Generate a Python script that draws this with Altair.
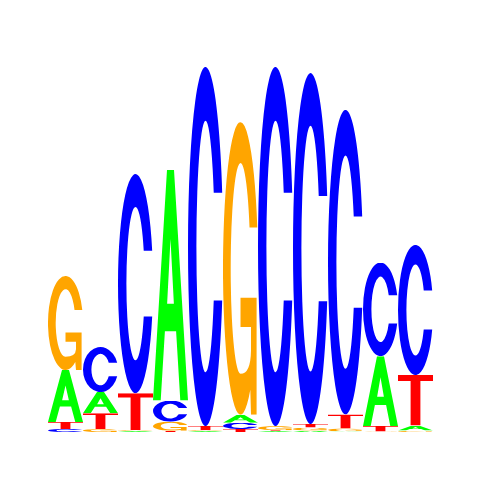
import urllib.parse

import altair as alt
import pandas as pd

# information content (bits) of each base at the 11 positions
positions = list(range(1, 12))
a_bits = [0.281, 0.114, 0.005, 1.247, 0.005, 0.043, 0.005, 0.008, 0.003, 0.378, 0.027]
c_bits = [0.016, 0.243, 1.184, 0.114, 1.941, 0.034, 1.941, 1.897, 1.646, 0.506, 0.703]
g_bits = [0.508, 0.016, 0.005, 0.049, 0.005, 1.582, 0.022, 0.016, 0.016, 0.003, 0.008]
t_bits = [0.038, 0.086, 0.200, 0.007, 0.022, 0.016, 0.005, 0.019, 0.076, 0.029, 0.273]

colors = {"A": "#00ff00", "C": "#0000ff", "G": "#ffa500", "T": "#ff0000"}

# letter outlines in a 100x100 box, stretched to fit each stack slot
glyphs = {
    "A": "M0,100 L40,0 L60,0 L100,100 L78,100 L66,70 L34,70 L22,100 Z "
         "M40.4,58 L50,30 L59.6,58 Z",
    "C": "M97.7,35 A50,50 0 1 0 97.7,65 L73.5,65 A26,35 0 1 1 73.5,35 Z",
    "G": "M98,36 A50,50 0 1 0 78,91.4 L80,100 L96,100 L96,60 L50,60 "
         "L50,70 L80,70 L80,78 Q79,86 50,86 A28,36 0 1 1 75.8,36 Z",
    "T": "M0,0 L100,0 L100,12 L64,12 L64,100 L36,100 L36,12 L0,12 Z",
}


def glyph_url(letter):
    svg = (
        '<svg xmlns="http://www.w3.org/2000/svg" width="100" height="100" '
        'viewBox="0 0 100 100" preserveAspectRatio="none">'
        f'<path d="{glyphs[letter]}" fill="{colors[letter]}" fill-rule="evenodd"/></svg>'
    )
    return "data:image/svg+xml;charset=utf-8," + urllib.parse.quote(svg)


rows = []
for i, pos in enumerate(positions):
    heights = {"A": a_bits[i], "C": c_bits[i], "G": g_bits[i], "T": t_bits[i]}
    base = 0.0
    # smallest letters at the bottom, largest on top
    for letter, h in sorted(heights.items(), key=lambda kv: kv[1]):
        rows.append({
            "pos": pos - 1,
            "pos_end": pos,
            "letter": letter,
            "y0": base,
            "y1": base + h,
            "url": glyph_url(letter),
        })
        base += h

df = pd.DataFrame(rows)

x_scale = alt.Scale(domain=[-40 / 35, 424 / 35], nice=False, zero=False)
y_scale = alt.Scale(domain=[-40 / 185, 424 / 185], nice=False, zero=False)

chart = alt.Chart(df).mark_image(aspect=False).encode(
    x=alt.X("pos:Q", scale=x_scale, axis=None),
    x2="pos_end:Q",
    y=alt.Y("y0:Q", scale=y_scale, axis=None),
    y2="y1:Q",
    url="url:N",
).properties(
    width=464,
    height=464,
    autosize=alt.AutoSizeParams(type="none"),
    padding=0,
).configure_view(
    strokeWidth=0
)

chart.save("out.html", embed_options={"renderer": "svg", "actions": False})
